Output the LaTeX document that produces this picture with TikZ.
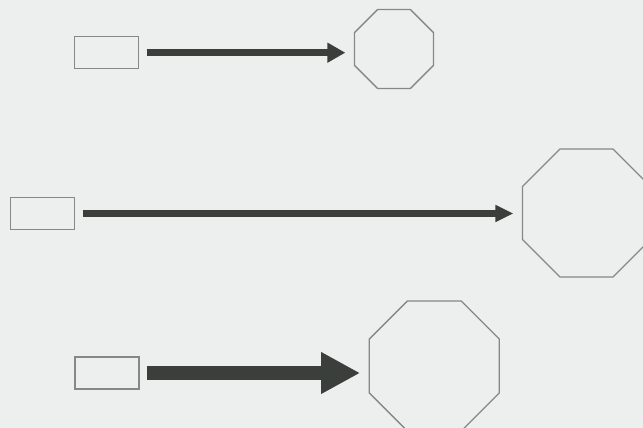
\documentclass[tikz,border=0pt]{standalone}
\usepackage{tikz}
\usetikzlibrary{arrows.meta, positioning, shapes.geometric}
\definecolor{paper}{RGB}{237,238,238}
\definecolor{shaft}{RGB}{58,63,59}
\definecolor{rim}{RGB}{135,135,135}

\begin{document}
\begin{tikzpicture}[
    x=1pt, y=-1pt,
    box/.style={rectangle, draw=rim, line width=1.3pt, inner sep=0pt,
        minimum width=64pt, minimum height=32pt},
    octa/.style={regular polygon, regular polygon sides=8, draw=rim,
        line width=1.3pt, inner sep=0pt, minimum size=#1},
    link/.style={draw=shaft, shorten <=7.5pt, shorten >=8.5pt}
]
% Frame
\fill[paper] (0,0) rectangle (643,428);
\useasboundingbox (0,0) rectangle (643,428);

% Nodes
\node[box] (r1) at (106.5,52.7) {};
\node[octa=85.5pt] (o1) at (394,49) {};
\node[box] (r2) at (42.5,213.5) {};
\node[octa=138.5pt] (o2) at (586.5,213) {};
\node[box] (r3) at (107,373) {};
\node[octa=140.7pt] (o3) at (434.3,366) {};

% Arrows
\draw[link, line width=7pt, -{Triangle[length=18pt, width=19pt]}]
    (r1.east) -- (r1.east -| o1.west);
\draw[link, line width=7pt, -{Triangle[length=18pt, width=16pt]}]
    (r2.east) -- (r2.east -| o2.west);
\draw[link, line width=14pt, -{Triangle[length=39pt, width=39pt]}]
    (r3.east) -- (r3.east -| o3.west);

\end{tikzpicture}
\end{document}
